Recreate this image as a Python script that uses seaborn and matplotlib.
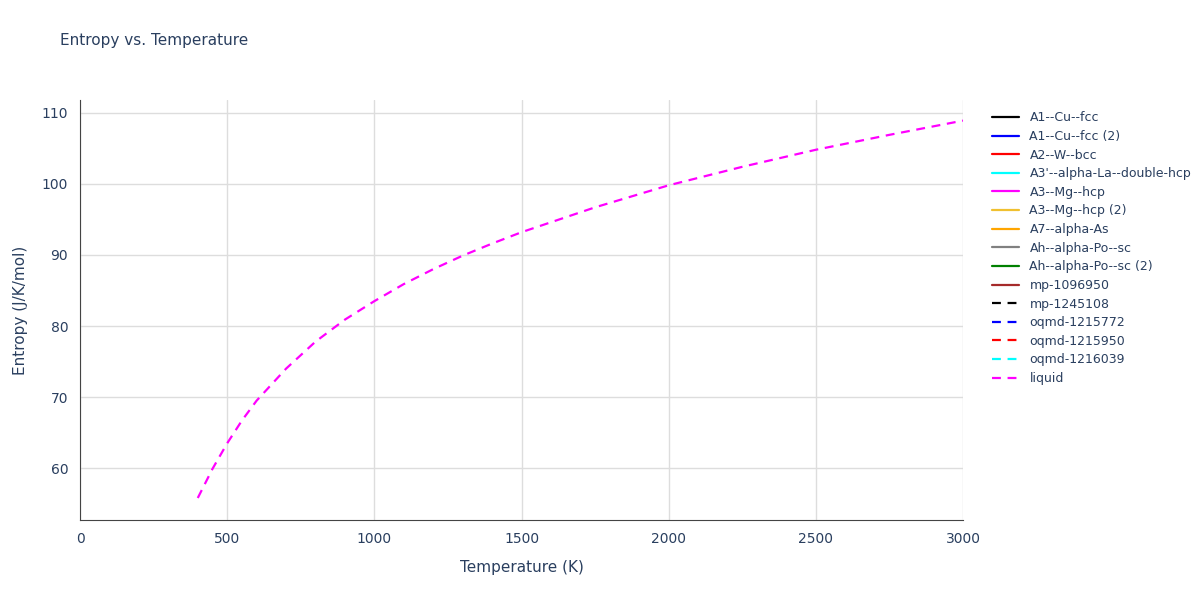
import matplotlib
matplotlib.use("Agg")
import matplotlib.pyplot as plt
import seaborn as sns
import pandas as pd

# liquid curve
temps = [400, 450, 500, 550, 600, 700, 800, 900, 1000, 1100, 1200, 1300, 1400, 1500,
         1750, 2000, 2250, 2500, 2750, 3000]
entropy = [55.8, 59.9, 63.5, 66.7, 69.5, 74.0, 77.8, 80.9, 83.5, 85.9, 88.0, 89.9,
           91.6, 93.2, 96.7, 99.8, 102.4, 104.8, 106.9, 108.9]

names = ["A1--Cu--fcc", "A1--Cu--fcc (2)", "A2--W--bcc", "A3'--alpha-La--double-hcp",
         "A3--Mg--hcp", "A3--Mg--hcp (2)", "A7--alpha-As", "Ah--alpha-Po--sc",
         "Ah--alpha-Po--sc (2)", "mp-1096950", "mp-1245108", "oqmd-1215772",
         "oqmd-1215950", "oqmd-1216039", "liquid"]
colors = ["black", "blue", "red", "cyan", "magenta", "#f0c030", "orange", "gray",
          "green", "brown", "black", "blue", "red", "cyan", "magenta"]
dashed = [False] * 10 + [True] * 5

sns.set_style("white")
fig = plt.figure(figsize=(12, 6), dpi=100)
ax = fig.add_axes([0.0667, 0.1333, 0.7358, 0.7])

df = pd.DataFrame({"T": temps, "S": entropy})
for name, c, d in zip(names, colors, dashed):
    ls = (0, (4, 3)) if d else "-"
    if name == "liquid":
        sns.lineplot(data=df, x="T", y="S", ax=ax, color=c, linestyle=ls, lw=1.6, label=name)
    else:
        ax.plot([], [], color=c, linestyle=ls, lw=1.6, label=name)

ax.set_xlim(0, 3000)
ax.set_ylim(52.7, 111.8)
ax.set_xticks([0, 500, 1000, 1500, 2000, 2500, 3000])
ax.set_yticks([60, 70, 80, 90, 100, 110])
ax.grid(True, color="#dddddd", lw=1)
for s in ["top", "right"]:
    ax.spines[s].set_visible(False)
for s in ["left", "bottom"]:
    ax.spines[s].set_color("#444444")
ax.tick_params(axis="both", direction="out", length=5, color="#444444",
               labelcolor="#2a3f5f", labelsize=10)
ax.set_xlabel("Temperature (K)", color="#2a3f5f", fontsize=11, labelpad=10)
ax.set_ylabel("Entropy (J/K/mol)", color="#2a3f5f", fontsize=11, labelpad=10)
fig.text(0.05, 0.925, "Entropy vs. Temperature", color="#2a3f5f", fontsize=11)

leg = ax.legend(loc="upper left", bbox_to_anchor=(1.02, 1.0), frameon=False,
                fontsize=9, handlelength=2.2, labelspacing=0.45)
for t in leg.get_texts():
    t.set_color("#2a3f5f")

fig.savefig("out.png", dpi=100)
